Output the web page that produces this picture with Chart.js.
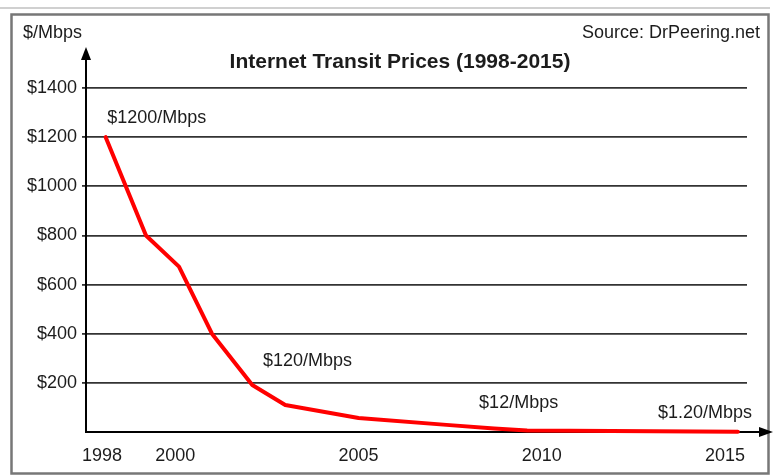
<!DOCTYPE html>
<html>
<head>
<meta charset="utf-8">
<script src="https://cdn.jsdelivr.net/npm/chart.js@4/dist/chart.umd.min.js"></script>
<style>
  html, body { margin: 0; padding: 0; background: #fff; }
  #chart { display: block; }
</style>
</head>
<body>
<canvas id="chart" width="776" height="476"></canvas>
<script>
// data
const years = [1998.1, 1999.2, 2000.1, 2001.0, 2002.1, 2003.0, 2005.0, 2007.4, 2008.7, 2009.6, 2015.35];
const prices = [1200, 800, 673, 400, 191, 110, 57, 29, 14, 6, 1.2];

const xTicks = [1998, 2000, 2005, 2010, 2015];
const yTickValues = [0, 200, 400, 600, 800, 1000, 1200, 1400];
const yTickLabels = ["", "$200", "$400", "$600", "$800", "$1000", "$1200", "$1400"];

// price callouts: text, year, price where the text sits
const noteTexts = ["$1200/Mbps", "$120/Mbps", "$12/Mbps", "$1.20/Mbps"];
const noteYears = [1998.14, 2002.39, 2008.29, 2013.17];
const notePrices = [1279, 289, 118, 77];

const FONT = "'Liberation Sans', Arial, Helvetica, sans-serif";
const INK = "#1c1c1c";

const framePlugin = {
  id: "frame",
  beforeDraw(chart) {
    const ctx = chart.ctx;
    ctx.save();
    ctx.fillStyle = "#fff";
    ctx.fillRect(0, 0, chart.width, chart.height);
    // faint line above the box
    ctx.strokeStyle = "#d0d0d0";
    ctx.lineWidth = 2;
    ctx.beginPath();
    ctx.moveTo(0, 8);
    ctx.lineTo(770, 8);
    ctx.stroke();
    // box
    ctx.strokeStyle = "#777";
    ctx.lineWidth = 2.5;
    ctx.strokeRect(11.5, 14.5, 757, 459);
    ctx.restore();
  },
};

const decorPlugin = {
  id: "decor",
  afterDraw(chart) {
    const ctx = chart.ctx;
    const xs = chart.scales.x;
    const ys = chart.scales.y;
    const area = chart.chartArea;
    ctx.save();

    // axis arrows
    ctx.strokeStyle = "#000";
    ctx.fillStyle = "#000";
    ctx.lineWidth = 2;
    ctx.beginPath();
    ctx.moveTo(area.left, area.top);
    ctx.lineTo(area.left, 56);
    ctx.moveTo(area.right, area.bottom);
    ctx.lineTo(760, area.bottom);
    ctx.stroke();
    ctx.beginPath();
    ctx.moveTo(area.left, 47);
    ctx.lineTo(area.left - 5, 60);
    ctx.lineTo(area.left + 5, 60);
    ctx.closePath();
    ctx.fill();
    ctx.beginPath();
    ctx.moveTo(773, area.bottom);
    ctx.lineTo(759, area.bottom - 5);
    ctx.lineTo(759, area.bottom + 5);
    ctx.closePath();
    ctx.fill();

    // texts
    ctx.fillStyle = INK;
    ctx.textBaseline = "middle";
    ctx.font = "bold 21px " + FONT;
    ctx.textAlign = "center";
    ctx.fillText("Internet Transit Prices (1998-2015)", 400, 62);

    ctx.font = "18px " + FONT;
    ctx.textAlign = "left";
    ctx.fillText("$/Mbps", 23, 33);
    ctx.textAlign = "right";
    ctx.fillText("Source: DrPeering.net", 760, 33);

    ctx.textAlign = "left";
    noteTexts.forEach((t, i) => {
      ctx.fillText(t, xs.getPixelForValue(noteYears[i]), ys.getPixelForValue(notePrices[i]));
    });
    ctx.restore();
  },
};

new Chart(document.getElementById("chart"), {
  type: "line",
  data: {
    datasets: [
      {
        data: years.map((y, i) => ({ x: y, y: prices[i] })),
        borderColor: "#ff0000",
        borderWidth: 4,
        borderJoinStyle: "round",
        borderCapStyle: "round",
        pointRadius: 0,
        tension: 0,
        fill: false,
        clip: false,
      },
    ],
  },
  options: {
    responsive: false,
    animation: false,
    layout: { padding: { left: 0, right: 29, top: 88, bottom: 0 } },
    plugins: { legend: { display: false }, tooltip: { enabled: false } },
    scales: {
      x: {
        type: "linear",
        min: 1997.563,
        max: 2015.6,
        afterBuildTicks(scale) {
          scale.ticks = xTicks.map((v) => ({ value: v }));
        },
        afterFit(scale) {
          scale.height = 44;
        },
        grid: { display: false, drawTicks: false },
        border: { display: true, color: "#000", width: 2 },
        ticks: {
          autoSkip: false,
          maxRotation: 0,
          padding: 13,
          color: INK,
          font: { family: FONT, size: 18 },
          callback: (v) => String(v),
        },
      },
      y: {
        min: 0,
        max: 1400,
        afterBuildTicks(scale) {
          scale.ticks = yTickValues.map((v) => ({ value: v }));
        },
        afterFit(scale) {
          scale.width = 86;
        },
        grid: {
          color: (c) => (c.tick && c.tick.value === 0 ? "rgba(0,0,0,0)" : "#333"),
          lineWidth: 1.8,
          tickLength: 4,
        },
        border: { display: true, color: "#000", width: 2 },
        ticks: {
          padding: 5,
          color: INK,
          font: { family: FONT, size: 18 },
          callback: (v) => yTickLabels[yTickValues.indexOf(v)],
        },
      },
    },
  },
  plugins: [framePlugin, decorPlugin],
});
</script>
</body>
</html>
